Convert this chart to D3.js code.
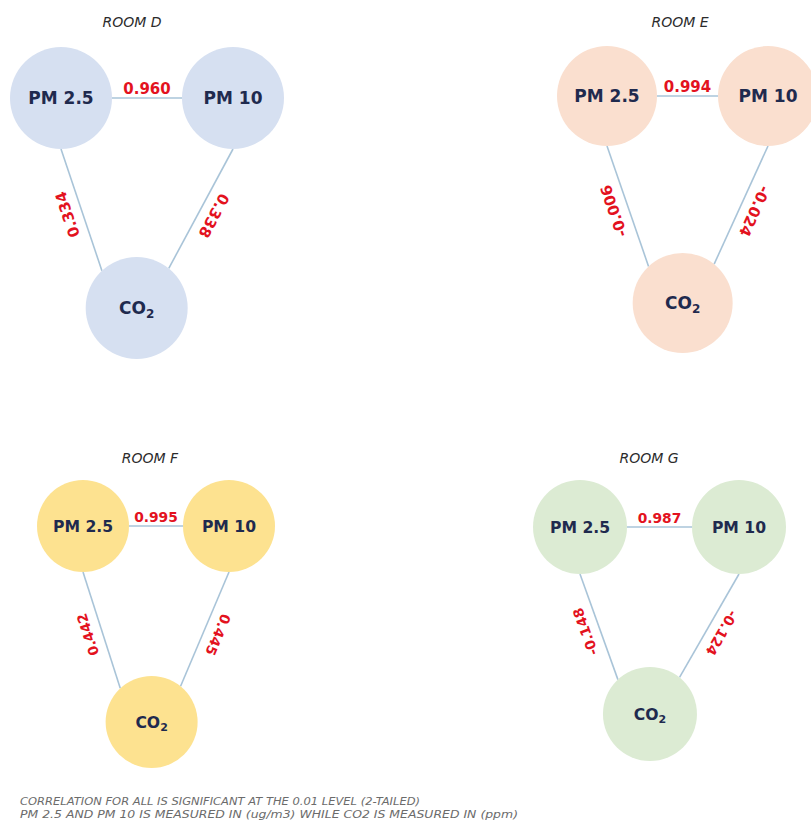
<!DOCTYPE html>
<html>
<head>
<meta charset="utf-8">
<script src="https://cdn.jsdelivr.net/npm/d3@7"></script>
<style>
  body { margin: 0; background: #fff; }
  svg { display: block; }
</style>
</head>
<body>
<div id="chart"></div>
<script>
// correlation values per room
const rooms = ['ROOM D', 'ROOM E', 'ROOM F', 'ROOM G'];
const variables = ['PM 2.5', 'PM 10', 'CO2'];
const pm25Pm10 = [0.960, 0.994, 0.995, 0.987];
const pm25Co2 = [0.334, -0.006, 0.442, -0.148];
const pm10Co2 = [0.338, -0.024, 0.445, -0.124];
const roomColors = ['#d6e0f1', '#fadfcf', '#fde290', '#dcebd3'];
const notes = [
  'CORRELATION FOR ALL IS SIGNIFICANT AT THE 0.01 LEVEL (2-TAILED)',
  'PM 2.5 AND PM 10 IS MEASURED IN (ug/m3)  WHILE CO2 IS MEASURED IN (ppm)'
];

// where each room's triangle sits on the page
const panels = [
  { x: [61, 233], y: [98, 308], co2: 0.44, r: 51, s: 1, title: [132, 27] },
  { x: [607, 768], y: [96, 303], co2: 0.47, r: 50, s: 1, title: [680, 27] },
  { x: [83, 229], y: [526, 722], co2: 0.47, r: 46, s: 0.92, title: [150, 463] },
  { x: [580, 739], y: [527, 714], co2: 0.44, r: 47, s: 0.92, title: [649, 463] }
];
// the side connectors leave the top circles straight down and hit CO2 at these angles (deg)
const leaveAngle = 90, hitLeft = -133, hitRight = -51;

const width = 811, height = 826;
// plain hyphen for negatives, like the original
const fmt = d3.formatLocale({ decimal: '.', thousands: ',', grouping: [3], currency: ['', ''], minus: '-' }).format('.3f');
const rad = Math.PI / 180;

const svg = d3.select('#chart').append('svg')
  .attr('width', width)
  .attr('height', height);

function onCircle(n, r, deg) {
  return { x: n.x + r * Math.cos(deg * rad), y: n.y + r * Math.sin(deg * rad) };
}

rooms.forEach((room, i) => {
  const p = panels[i];
  const xs = d3.scaleLinear().domain([0, 1]).range(p.x);
  const ys = d3.scaleLinear().domain([0, 1]).range(p.y);

  const nodes = [
    { id: variables[0], x: xs(0), y: ys(0) },
    { id: variables[1], x: xs(1), y: ys(0) },
    { id: variables[2], x: xs(p.co2), y: ys(1) }
  ];
  // edges run clockwise so labels sit outside the triangle
  const edges = [
    { a: onCircle(nodes[0], p.r, 0), b: onCircle(nodes[1], p.r, 180), v: pm25Pm10[i], gap: 4.5 },
    { a: onCircle(nodes[1], p.r, leaveAngle), b: onCircle(nodes[2], p.r, hitRight), v: pm10Co2[i], gap: 9.5 },
    { a: onCircle(nodes[2], p.r, hitLeft), b: onCircle(nodes[0], p.r, leaveAngle), v: pm25Co2[i], gap: 9.5 }
  ];

  const g = svg.append('g').attr('class', 'room');

  g.append('text')
    .attr('x', p.title[0])
    .attr('y', p.title[1])
    .attr('text-anchor', 'middle')
    .attr('font-family', 'DejaVu Sans, sans-serif')
    .attr('font-style', 'italic')
    .attr('font-size', 14)
    .attr('fill', '#2b2b2b')
    .text(room);

  g.selectAll('line')
    .data(edges)
    .enter().append('line')
    .attr('x1', d => d.a.x)
    .attr('y1', d => d.a.y)
    .attr('x2', d => d.b.x)
    .attr('y2', d => d.b.y)
    .attr('stroke', '#a9c4d8')
    .attr('stroke-width', 1.6);

  g.selectAll('circle')
    .data(nodes)
    .enter().append('circle')
    .attr('cx', d => d.x)
    .attr('cy', d => d.y)
    .attr('r', p.r)
    .attr('fill', roomColors[i]);

  const lbl = g.selectAll('text.node')
    .data(nodes)
    .enter().append('text')
    .attr('class', 'node')
    .attr('x', d => d.x)
    .attr('y', d => d.y)
    .attr('dy', '0.36em')
    .attr('text-anchor', 'middle')
    .attr('font-family', 'DejaVu Sans, sans-serif')
    .attr('font-weight', 'bold')
    .attr('font-size', 17 * p.s)
    .attr('fill', '#1f2a4e');

  lbl.each(function(d) {
    const t = d3.select(this);
    if (d.id === 'CO2') {
      t.append('tspan').text('CO');
      t.append('tspan')
        .attr('dy', '0.3em')
        .attr('font-size', 12 * p.s)
        .text('2');
    } else {
      t.text(d.id);
    }
  });

  g.selectAll('text.corr')
    .data(edges)
    .enter().append('text')
    .attr('class', 'corr')
    .attr('transform', d => {
      const ang = Math.atan2(d.b.y - d.a.y, d.b.x - d.a.x) / rad;
      return `translate(${(d.a.x + d.b.x) / 2},${(d.a.y + d.b.y) / 2}) rotate(${ang})`;
    })
    .attr('y', d => -d.gap)
    .attr('text-anchor', 'middle')
    .attr('font-family', 'DejaVu Sans, sans-serif')
    .attr('font-weight', 'bold')
    .attr('font-size', 15 * p.s)
    .attr('fill', '#e3121e')
    .text(d => fmt(d.v));
});

svg.selectAll('text.note')
  .data(notes)
  .enter().append('text')
  .attr('class', 'note')
  .attr('x', 20)
  .attr('y', (d, i) => 805 + i * 13)
  .attr('font-family', 'DejaVu Sans, sans-serif')
  .attr('font-style', 'italic')
  .attr('font-size', 10)
  .attr('fill', '#6b6b6b')
  .attr('textLength', (d, i) => i === 0 ? 400 : 498)
  .attr('lengthAdjust', 'spacingAndGlyphs')
  .text(d => d);
</script>
</body>
</html>
